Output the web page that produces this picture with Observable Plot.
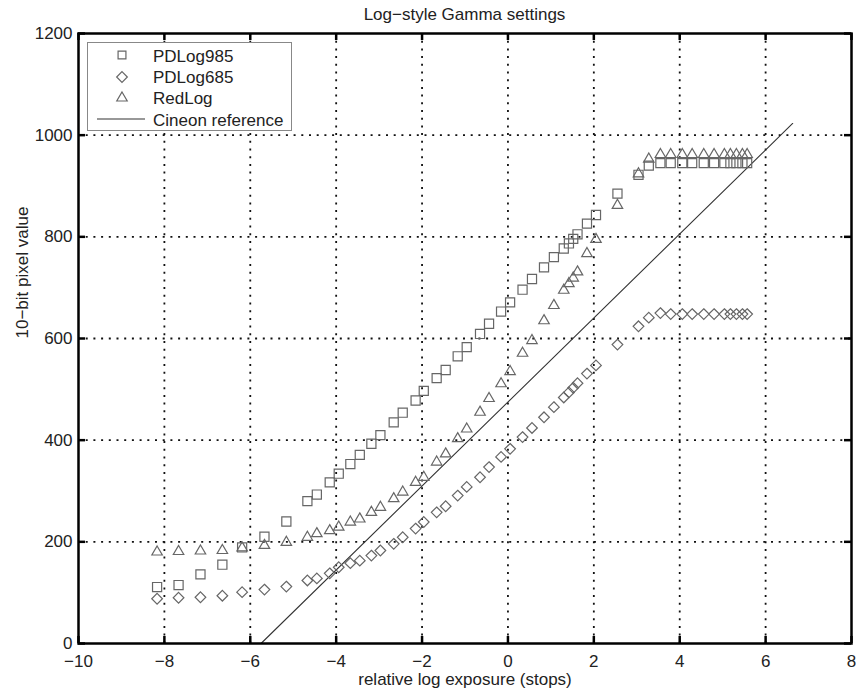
<!DOCTYPE html>
<html>
<head>
<meta charset="utf-8">
<script src="https://cdn.jsdelivr.net/npm/d3@7"></script>
<script src="https://cdn.jsdelivr.net/npm/@observablehq/plot@0.6"></script>
<style>
  body { margin: 0; background: #fff; font-family: "Liberation Sans", Arial, sans-serif; }
  #wrap { position: relative; width: 856px; height: 694px; overflow: hidden; background: #fff; }
  #title { box-sizing: border-box; width: 856px; height: 28px; line-height: 30px; padding-left: 73px;
           text-align: center; font-size: 17px; color: #222; white-space: nowrap; }
  #chart svg { display: block; }
  #legend { position: absolute; left: 87px; top: 42px; }
</style>
</head>
<body>
<div id="wrap">
  <div id="title">Log−style Gamma settings</div>
  <div id="chart"></div>
  <svg id="legend" width="206" height="90"></svg>
</div>
<script>
// ---- data ----
const exposure = [-8.17, -7.67, -7.16, -6.65, -6.19, -5.67, -5.16, -4.67, -4.45, -4.15, -3.94, -3.67, -3.45,
  -3.18, -2.97, -2.66, -2.45, -2.15, -1.96, -1.66, -1.45, -1.17, -0.96, -0.65, -0.44, -0.16, 0.05, 0.34, 0.56,
  0.84, 1.07, 1.30, 1.42, 1.52, 1.62, 1.84, 2.05, 2.55, 3.04, 3.28, 3.55, 3.79, 4.06, 4.29, 4.56, 4.80, 5.04,
  5.18, 5.32, 5.46, 5.57];
const pdlog985 = [111, 115, 136, 155, 189, 210, 240, 280, 293, 317, 334, 353, 371,
  393, 410, 435, 454, 478, 497, 522, 538, 565, 583, 609, 629, 653, 671, 696, 717,
  740, 760, 777, 787, 796, 805, 826, 843, 885, 922, 940, 945, 945, 945, 945, 945, 945, 945,
  945, 945, 945, 945];
const pdlog685 = [88, 90, 91, 94, 101, 106, 112, 124, 128, 138, 150, 158, 163,
  173, 183, 196, 209, 226, 239, 258, 270, 291, 308, 327, 347, 367, 383, 406, 424,
  445, 465, 484, 494, 503, 512, 531, 547, 588, 624, 641, 650, 648, 648, 648, 648, 648, 648,
  648, 648, 648, 648];
const redlog = [180, 181, 182, 183, 188, 193, 199, 209, 216, 222, 229, 239, 245,
  258, 268, 285, 298, 317, 327, 357, 373, 403, 422, 455, 482, 511, 535, 571, 596,
  635, 665, 695, 708, 719, 731, 767, 795, 862, 924, 953, 962, 962, 962, 962, 962, 962, 962,
  962, 962, 962, 962];
const cineonX = [-5.75, 6.63];
const cineonY = [0, 1023];
const xTicks = [-10, -8, -6, -4, -2, 0, 2, 4, 6, 8];
const yTicks = [0, 200, 400, 600, 800, 1000, 1200];
const seriesNames = ["PDLog985", "PDLog685", "RedLog", "Cineon reference"];

// ---- build tables ----
const rows = ys => exposure.map((x, i) => ({x, y: ys[i]}));
const cineon = cineonX.map((x, i) => ({x, y: cineonY[i]}));

const W = 856, H = 666, mL = 78, mR = 5, mT = 5, mB = 51;
const fw = W - mL - mR, fh = H - mT - mB;
const font = '"Liberation Sans", Arial, sans-serif';
const markerColor = "#666";
const dotOpts = {x: "x", y: "y", fill: "none", stroke: markerColor, strokeWidth: 1.2};
const gridOpts = {stroke: "#111", strokeWidth: 1.8, strokeDasharray: "2,5.7"};
const tickOpts = {stroke: "#000", strokeWidth: 2.5};
const numFmt = d => (d < 0 ? "−" : "") + Math.abs(d);

const chart = Plot.plot({
  width: W, height: H,
  marginLeft: mL, marginRight: mR, marginTop: mT, marginBottom: mB,
  style: {fontFamily: font, fontSize: "17px", color: "#222", background: "white", overflow: "visible"},
  x: {domain: [-10, 8], ticks: xTicks, label: null},
  y: {domain: [0, 1200], ticks: yTicks, label: null},
  marks: [
    Plot.ruleX(xTicks.slice(1, -1), gridOpts),
    Plot.ruleY(yTicks.slice(1, -1), gridOpts),
    Plot.line(cineon, {x: "x", y: "y", stroke: "#333", strokeWidth: 1.1}),
    Plot.dot(rows(pdlog985), {...dotOpts, symbol: "square2", r: 5.8}),
    Plot.dot(rows(pdlog685), {...dotOpts, symbol: "diamond2", r: 4.8}),
    Plot.dot(rows(redlog), {...dotOpts, symbol: "triangle2", r: 5.0}),
    Plot.ruleX(xTicks, {...tickOpts, insetTop: fh - 7}),
    Plot.ruleX(xTicks, {...tickOpts, insetBottom: fh - 7}),
    Plot.ruleY(yTicks, {...tickOpts, insetRight: fw - 7}),
    Plot.ruleY(yTicks, {...tickOpts, insetLeft: fw - 7}),
    Plot.frame({stroke: "#000", strokeWidth: 2.5}),
    Plot.axisX(xTicks, {tickSize: 0, tickPadding: 11, fontSize: 17, fill: "#222", tickFormat: numFmt}),
    Plot.axisY(yTicks, {tickSize: 0, tickPadding: 6, fontSize: 17, fill: "#222", tickFormat: numFmt}),
    Plot.text(["relative log exposure (stops)"], {text: d => d, frameAnchor: "bottom", dy: 41, lineAnchor: "bottom", fontSize: 17, fill: "#222"}),
    Plot.text(["10−bit pixel value"], {text: d => d, frameAnchor: "left", dx: -51, rotate: -90, lineAnchor: "bottom", fontSize: 17, fill: "#222"})
  ]
});
document.getElementById("chart").appendChild(chart);

// ---- legend (inside the axes, upper left) ----
const lg = d3.select("#legend");
lg.append("rect").attr("x", 0.5).attr("y", 0.5).attr("width", 204).attr("height", 88)
  .attr("fill", "white").attr("stroke", "#888").attr("stroke-width", 1);
const sym = [
  {type: d3.symbolSquare2, r: 5.0},
  {type: d3.symbolDiamond2, r: 4.8},
  {type: d3.symbolTriangle2, r: 5.0}
];
const rowY = [13, 35, 56, 77];
const baseY = [19.7, 41, 62.3, 83.7];
seriesNames.forEach((name, i) => {
  if (i < 3) {
    lg.append("path")
      .attr("d", d3.symbol(sym[i].type, sym[i].r * sym[i].r * Math.PI)())
      .attr("transform", `translate(35,${rowY[i]})`)
      .attr("fill", "none").attr("stroke", markerColor).attr("stroke-width", 1.2);
  } else {
    lg.append("line").attr("x1", 10).attr("x2", 58).attr("y1", rowY[i]).attr("y2", rowY[i])
      .attr("stroke", "#333").attr("stroke-width", 1.1);
  }
  lg.append("text").attr("x", 66).attr("y", baseY[i]).text(name)
    .attr("font-family", font).attr("font-size", 17).attr("fill", "#222");
});
</script>
</body>
</html>
